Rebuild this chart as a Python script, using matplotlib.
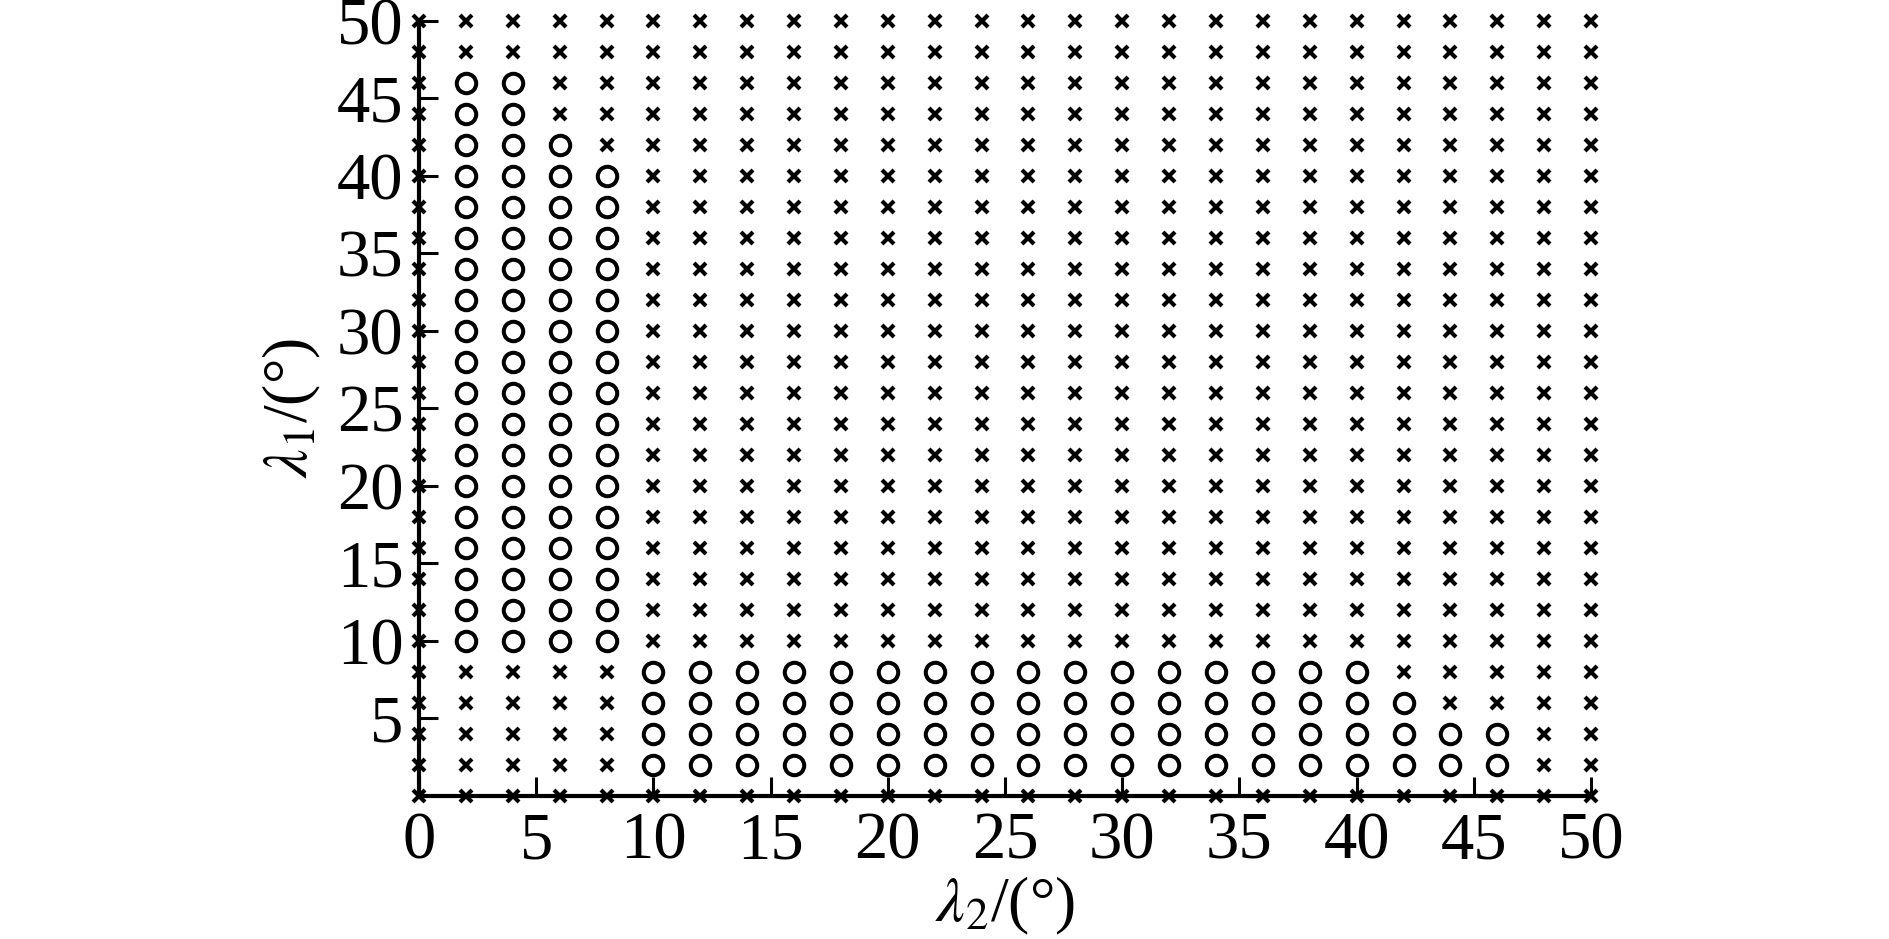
import numpy as np
import matplotlib
matplotlib.use('Agg')
import matplotlib.pyplot as plt

plt.rcParams['font.family'] = ['Liberation Serif', 'DejaVu Serif']
plt.rcParams['mathtext.fontset'] = 'stix'

# grid of sampled angles (deg)
lam2_grid = np.arange(0, 51, 2)
lam1_grid = np.arange(0, 51, 2)

# feasible (circle) region: per lambda2 column, lambda1 from lo to hi
circ_lam2 = [2, 4, 6, 8, 10, 12, 14, 16, 18, 20, 22, 24, 26, 28, 30, 32, 34, 36, 38, 40, 42, 44, 46]
circ_lo = [10, 10, 10, 10, 2, 2, 2, 2, 2, 2, 2, 2, 2, 2, 2, 2, 2, 2, 2, 2, 2, 2, 2]
circ_hi = [46, 46, 42, 40, 8, 8, 8, 8, 8, 8, 8, 8, 8, 8, 8, 8, 8, 8, 8, 8, 6, 4, 4]

ok_x, ok_y, no_x, no_y = [], [], [], []
ranges = dict(zip(circ_lam2, zip(circ_lo, circ_hi)))
for x in lam2_grid:
    for y in lam1_grid:
        r = ranges.get(int(x))
        if r and r[0] <= y <= r[1]:
            ok_x.append(x); ok_y.append(y)
        else:
            no_x.append(x); no_y.append(y)

fig = plt.figure(figsize=(18.89, 9.39), dpi=100)
ax = fig.add_axes([0.2218, 0.1523, 0.6205, 0.8257])

ax.plot(no_x, no_y, 'x', color='black', ms=8, mew=3.0, clip_on=False, zorder=3)
ax.plot(ok_x, ok_y, 'o', color='black', mfc='none', ms=14, mew=2.9, clip_on=False, zorder=3)

ax.set_xlim(0, 50)
ax.set_ylim(0, 50)
ax.set_xticks(np.arange(0, 51, 5))
ax.set_yticks(np.arange(5, 51, 5))

for s in ['top', 'right']:
    ax.spines[s].set_visible(False)
for s in ['left', 'bottom']:
    ax.spines[s].set_linewidth(3)

ax.tick_params(direction='in', length=14, width=2.2, labelsize=48, pad=11)

ax.set_xlabel(r'$\lambda_2$/(°)', fontsize=46, labelpad=2)
ax.set_ylabel(r'$\lambda_1$/(°)', fontsize=46, labelpad=10)

fig.savefig('out.png', dpi=100)
